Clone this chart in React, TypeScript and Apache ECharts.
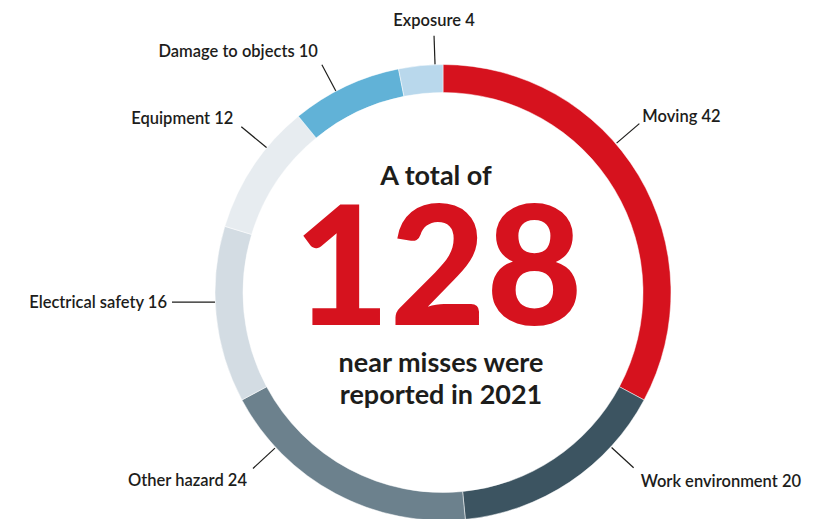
import { useEffect, useRef } from "react";
import * as echarts from "echarts";

const categories = [
  "Moving",
  "Work environment",
  "Other hazard",
  "Electrical safety",
  "Equipment",
  "Damage to objects",
  "Exposure",
];
const values = [42, 20, 24, 16, 12, 10, 4];
const colors = ["#D6121E", "#3C5461", "#6C818D", "#D3DCE3", "#E7ECF0", "#61B2D7", "#B9D8EC"];
const headline = "A total of";
const footLines = ["near misses were", "reported in 2021"];

// layout constants (styling only)
const CX = 443;
const CY = 292.5;
const R_IN = 200;
const R_OUT = 228;

type Leader = { a: number; r1: number; r2?: number; hx?: number; dx: number; dy: number; align: string };
const leaders: Leader[] = [
  { a: 49.3, r1: 229, r2: 259, dx: 3, dy: -8, align: "left" },
  { a: 132.6, r1: 229, r2: 259, dx: 7, dy: 13, align: "left" },
  { a: -132.8, r1: 229, r2: 259, dx: -6, dy: 12, align: "right" },
  { a: -92.4, r1: 228, hx: 172, dx: -5, dy: 0, align: "right" },
  { a: -50.6, r1: 228, r2: 261, dx: -8, dy: -9, align: "right" },
  { a: -28, r1: 228, r2: 258, dx: -4, dy: -14, align: "right" },
  { a: -2, r1: 228, r2: 257, dx: 0, dy: -16, align: "center" },
];

function polar(a: number, r: number): [number, number] {
  const t = (a * Math.PI) / 180;
  return [CX + r * Math.sin(t), CY - r * Math.cos(t)];
}

export default function App() {
  const ref = useRef<HTMLDivElement>(null);
  useEffect(() => {
    if (!ref.current) return;
    const chart = echarts.init(ref.current, null, { renderer: "svg" });
    const total = values.reduce((s, v) => s + v, 0);
    const font = "Lato, 'Noto Sans', sans-serif";
    chart.setOption({
      animation: false,
      backgroundColor: "#ffffff",
      series: [
        {
          type: "pie",
          center: [CX, CY],
          radius: [R_IN, R_OUT],
          startAngle: 90,
          clockwise: true,
          silent: true,
          itemStyle: { borderColor: "#ffffff", borderWidth: 0.5 },
          data: categories.map((name, i) => ({
            name,
            value: values[i],
            itemStyle: { color: colors[i] },
          })),
          label: {
            show: true,
            position: "outside",
            formatter: "{b} {c}",
            fontFamily: font,
            fontSize: 16.5,
            fontWeight: 600,
            color: "#1d1d1b",
          },
          labelLine: {
            show: true,
            length: 20,
            length2: 0,
            lineStyle: { color: "#1d1d1b", width: 1.2 },
          },
          labelLayout: (p: any) => {
            const L = leaders[p.dataIndex];
            const s = polar(L.a, L.r1);
            const e: [number, number] = L.hx != null ? [L.hx, s[1]] : polar(L.a, L.r2 as number);
            return {
              x: e[0] + L.dx,
              y: e[1] + L.dy,
              align: L.align,
              verticalAlign: "middle",
              labelLinePoints: [s, e, e],
            };
          },
        },
      ],
      graphic: [
        {
          type: "text",
          x: 436,
          y: 174,
          style: {
            text: headline,
            fontFamily: font,
            fontSize: 27,
            fontWeight: "bold",
            fill: "#1d1d1b",
            align: "center",
            verticalAlign: "middle",
          },
        },
        {
          type: "text",
          x: 438,
          y: 260,
          style: {
            text: String(total),
            fontFamily: font,
            fontSize: 166,
            fontWeight: 900,
            lineHeight: 120,
            fill: "#D6121E",
            align: "center",
            verticalAlign: "middle",
          },
        },
        ...footLines.map((t, i) => ({
          type: "text",
          x: 441,
          y: 361 + i * 32,
          style: {
            text: t,
            fontFamily: font,
            fontSize: 27,
            fontWeight: "bold",
            fill: "#1d1d1b",
            align: "center",
            verticalAlign: "middle",
          },
        })),
      ],
    });
    return () => chart.dispose();
  }, []);
  return (
    <div
      ref={ref}
      style={{ position: "absolute", left: 0, top: 0, width: 836, height: 519 }}
    />
  );
}
